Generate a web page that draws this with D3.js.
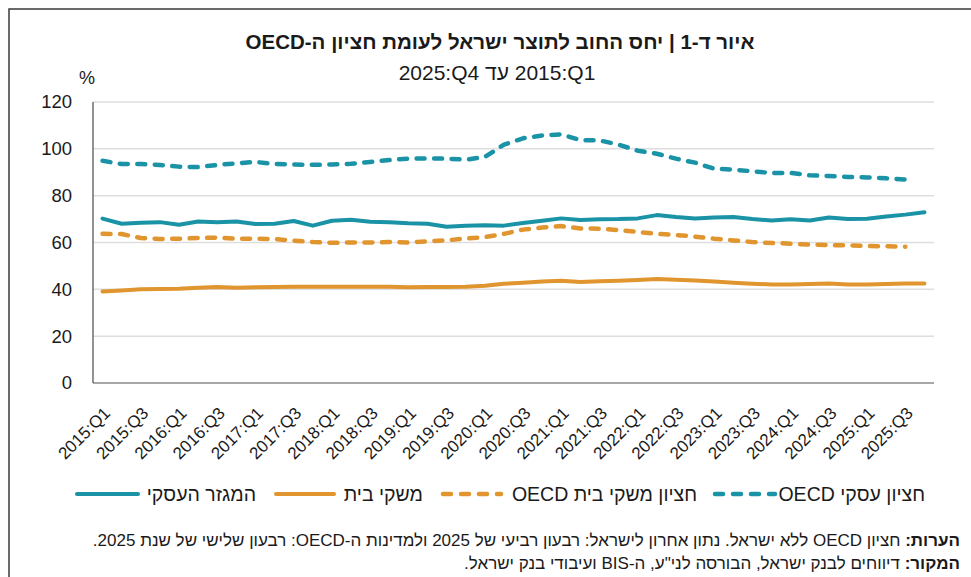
<!DOCTYPE html>
<html>
<head>
<meta charset="utf-8">
<script src="https://cdn.jsdelivr.net/npm/d3@7"></script>
<style>
  body { margin: 0; background: #fff; }
  text { font-family: "Liberation Sans", "DejaVu Sans", Arial, sans-serif; fill: #1a1a1a; }
</style>
</head>
<body>
<div id="chart"></div>
<script>
var svgWidth = 971;
var svgHeight = 577;

// quarters 2015:Q1 .. 2025:Q4
var years = [2015, 2016, 2017, 2018, 2019, 2020, 2021, 2022, 2023, 2024, 2025];
var quarters = [];
years.forEach(function(y) {
  [1, 2, 3, 4].forEach(function(q) { quarters.push(y + ":Q" + q); });
});

// every second quarter gets a label
var tickLabels = quarters.filter(function(d, i) { return i % 2 === 0; });
var yTicks = [0, 20, 40, 60, 80, 100, 120];

// Israel - business sector (to 2025:Q4)
var business = [70.2, 68.0, 68.4, 68.7, 67.6, 69.0, 68.6, 69.0, 67.9, 68.0,
  69.2, 67.2, 69.3, 69.7, 68.9, 68.6, 68.2, 68.0, 66.7, 67.2,
  67.4, 67.2, 68.3, 69.3, 70.3, 69.6, 69.9, 70.0, 70.3, 71.7,
  70.9, 70.3, 70.7, 70.9, 70.0, 69.4, 69.9, 69.4, 70.7, 70.0,
  70.1, 71.1, 71.9, 72.9];

// Israel - households (to 2025:Q4)
var households = [39.1, 39.5, 40.0, 40.1, 40.3, 40.7, 41.0, 40.7, 40.9, 41.0,
  41.1, 41.1, 41.1, 41.1, 41.1, 41.1, 40.9, 41.0, 41.0, 41.1,
  41.5, 42.4, 42.8, 43.3, 43.7, 43.1, 43.5, 43.7, 44.0, 44.4,
  44.1, 43.8, 43.3, 42.8, 42.4, 42.1, 42.1, 42.3, 42.5, 42.1,
  42.1, 42.3, 42.5, 42.5];

// OECD median - business (to 2025:Q3)
var oecdBusiness = [94.9, 93.5, 93.5, 93.1, 92.4, 92.2, 93.1, 93.8, 94.4, 93.5,
  93.3, 93.2, 93.3, 93.6, 94.4, 95.2, 95.8, 95.9, 95.8, 95.4,
  96.5, 101.8, 104.5, 105.7, 106.2, 103.7, 103.6, 101.8, 99.2, 97.9,
  95.8, 94.1, 91.5, 91.1, 90.4, 89.7, 89.7, 88.7, 88.4, 88.0,
  87.8, 87.4, 86.9];

// OECD median - households (to 2025:Q3)
var oecdHouseholds = [63.7, 63.6, 61.9, 61.5, 61.6, 61.9, 62.1, 61.6, 61.6, 61.5,
  60.8, 60.2, 59.9, 60.0, 60.0, 60.2, 60.0, 60.5, 60.9, 61.7,
  62.3, 63.7, 65.5, 66.4, 67.0, 66.0, 65.9, 65.3, 64.5, 63.7,
  63.2, 62.5, 61.6, 60.9, 60.2, 59.8, 59.5, 59.1, 58.9, 58.8,
  58.5, 58.4, 58.2];

var seriesNames = ["המגזר העסקי", "משקי בית", "חציון משקי בית OECD", "חציון עסקי OECD"];

var teal = "#1a93a6";
var orange = "#e0952f";

var series = [
  { name: seriesNames[0], values: business, color: teal, dash: null },
  { name: seriesNames[1], values: households, color: orange, dash: null },
  { name: seriesNames[2], values: oecdHouseholds, color: orange, dash: "8,9.5" },
  { name: seriesNames[3], values: oecdBusiness, color: teal, dash: "8,9.5" }
];

var plot = { left: 93, right: 934, top: 102, bottom: 383 };

var svg = d3.select("#chart")
  .append("svg")
  .attr("width", svgWidth)
  .attr("height", svgHeight);

// frame
svg.append("rect")
  .attr("x", 9)
  .attr("y", 9)
  .attr("width", 1000)
  .attr("height", 700)
  .attr("fill", "none")
  .attr("stroke", "#3a3a3a")
  .attr("stroke-width", 1.5);

// titles
svg.append("text")
  .attr("x", 500)
  .attr("y", 49)
  .attr("text-anchor", "middle")
  .style("direction", "rtl")
  .style("font-size", "20.5px")
  .style("font-weight", "bold")
  .text("איור ד-1 | יחס החוב לתוצר ישראל לעומת חציון ה-OECD");

// LRM marks keep "2015:Q1" in its left-to-right order
svg.append("text")
  .attr("x", 497)
  .attr("y", 80)
  .attr("text-anchor", "middle")
  .style("direction", "rtl")
  .style("font-size", "21px")
  .text("\u200E2015:Q1 עד \u200E2025:Q4");

svg.append("text")
  .attr("x", 87)
  .attr("y", 84)
  .attr("text-anchor", "middle")
  .style("font-size", "18px")
  .text("%");

var xScale = d3.scalePoint()
  .domain(quarters)
  .range([plot.left, plot.right])
  .padding(0.5);

var yScale = d3.scaleLinear()
  .domain([0, 120])
  .range([plot.bottom, plot.top]);

// gridlines
svg.append("g")
  .selectAll("line")
  .data(yTicks.filter(function(d) { return d > 0; }))
  .enter()
  .append("line")
  .attr("x1", plot.left)
  .attr("x2", plot.right)
  .attr("y1", function(d) { return yScale(d); })
  .attr("y2", function(d) { return yScale(d); })
  .attr("stroke", "#dedede")
  .attr("stroke-width", 1.5);

// y axis labels
var leftAxis = d3.axisLeft(yScale).tickValues(yTicks).tickSize(0).tickPadding(21);
var yAxisG = svg.append("g")
  .attr("transform", "translate(" + plot.left + ",0)")
  .call(leftAxis);
yAxisG.select(".domain").remove();
yAxisG.selectAll("text")
  .style("font-size", "18.5px")
  .style("font-family", "'Liberation Sans', 'DejaVu Sans', Arial, sans-serif")
  .attr("fill", "#1a1a1a");

// x axis labels
var bottomAxis = d3.axisBottom(xScale).tickValues(tickLabels).tickSize(0);
var xAxisG = svg.append("g")
  .attr("transform", "translate(0," + plot.bottom + ")")
  .call(bottomAxis);
xAxisG.select(".domain").remove();
xAxisG.selectAll("text")
  .style("font-size", "17px")
  .style("font-family", "'Liberation Sans', 'DejaVu Sans', Arial, sans-serif")
  .attr("fill", "#1a1a1a")
  .attr("text-anchor", "end")
  .attr("x", 0)
  .attr("y", 0)
  .attr("dy", "0.35em")
  .attr("transform", "translate(4,27) rotate(-45)");

// axis lines
svg.append("line")
  .attr("x1", plot.left).attr("x2", plot.right)
  .attr("y1", plot.bottom).attr("y2", plot.bottom)
  .attr("stroke", "#8a8a8a")
  .attr("stroke-width", 1.5);

svg.append("line")
  .attr("x1", plot.left).attr("x2", plot.left)
  .attr("y1", plot.top).attr("y2", plot.bottom)
  .attr("stroke", "#4a4a4a")
  .attr("stroke-width", 1.2);

// lines
var line = d3.line()
  .x(function(d, i) { return xScale(quarters[i]); })
  .y(function(d) { return yScale(d); });

svg.append("g")
  .selectAll("path")
  .data(series)
  .enter()
  .append("path")
  .attr("d", function(s) { return line(s.values); })
  .attr("fill", "none")
  .attr("stroke", function(s) { return s.color; })
  .attr("stroke-width", function(s) { return s.dash ? 4.5 : 4; })
  .attr("stroke-dasharray", function(s) { return s.dash; })
  .attr("stroke-linejoin", "round")
  .attr("stroke-linecap", "round");

// legend
var legendPos = [
  { x1: 77, x2: 138, tx: 256 },
  { x1: 276, x2: 334, tx: 423 },
  { x1: 443, x2: 501, tx: 697 },
  { x1: 715, x2: 775, tx: 925 }
];
var legendY = 494;
var legend = svg.append("g")
  .selectAll("g")
  .data(series)
  .enter()
  .append("g");

legend.append("line")
  .attr("x1", function(s, i) { return legendPos[i].x1; })
  .attr("x2", function(s, i) { return legendPos[i].x2; })
  .attr("y1", legendY)
  .attr("y2", legendY)
  .attr("stroke", function(s) { return s.color; })
  .attr("stroke-width", function(s) { return s.dash ? 4.5 : 4; })
  .attr("stroke-dasharray", function(s) { return s.dash ? "8,10" : null; })
  .attr("stroke-linecap", "round");

legend.append("text")
  .attr("x", function(s, i) { return legendPos[i].tx; })
  .attr("y", legendY)
  .attr("dy", "0.35em")
  .attr("text-anchor", "start")
  .style("direction", "rtl")
  .style("font-size", "19.5px")
  .text(function(s) { return s.name; });

// notes
var notes = svg.append("text")
  .attr("x", 960)
  .attr("y", 546)
  .attr("text-anchor", "start")
  .style("direction", "rtl")
  .style("font-size", "17px");
notes.append("tspan").style("font-weight", "bold").text("הערות:");
notes.append("tspan").text(" חציון OECD ללא ישראל. נתון אחרון לישראל: רבעון רביעי של 2025 ולמדינות ה-OECD: רבעון שלישי של שנת 2025.");

var source = svg.append("text")
  .attr("x", 960)
  .attr("y", 569)
  .attr("text-anchor", "start")
  .style("direction", "rtl")
  .style("font-size", "17px");
source.append("tspan").style("font-weight", "bold").text("המקור:");
source.append("tspan").text("  דיווחים לבנק ישראל, הבורסה לני\"ע, ה-BIS ועיבודי בנק ישראל.");
</script>
</body>
</html>
